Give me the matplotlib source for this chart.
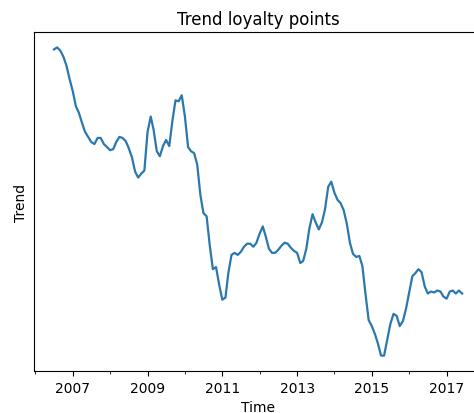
import numpy as np
import pandas as pd
import matplotlib
matplotlib.use('Agg')
import matplotlib.pyplot as plt

# monthly trend of loyalty points (centred 12-month trend, so half a year lost at each end)
start = '2006-07-01'
trend = [328, 330, 327, 321, 312, 299, 287, 272, 266, 256, 247, 242,
         237, 235, 241, 241, 235, 232, 229, 230, 237, 242, 241, 238,
         231, 222, 208, 202, 206, 209, 247, 262, 249, 228, 223, 233,
         239, 233, 258, 278, 277, 283, 262, 232, 228, 226, 215, 185,
         167, 164, 135, 112, 114, 97, 82, 84, 108, 126, 128, 126,
         129, 134, 137, 137, 134, 138, 147, 154, 144, 132, 128, 128,
         131, 135, 138, 137, 133, 130, 128, 118, 120, 132, 152, 166,
         158, 151, 158, 171, 193, 198, 187, 180, 177, 170, 157, 138,
         127, 124, 125, 115, 87, 62, 56, 48, 39, 27, 27, 43,
         58, 68, 66, 56, 61, 73, 89, 105, 108, 112, 109, 95,
         88, 90, 89, 91, 90, 85, 83, 90, 91, 88, 91, 88]
tick_years = [2007, 2009, 2011, 2013, 2015, 2017]
minor_years = [2006, 2008, 2010, 2012, 2014, 2016]

dates = pd.date_range(start, periods=len(trend), freq='MS')

fig = plt.figure(figsize=(4.74, 4.14), dpi=100)
# axes runs off the right edge of the figure
ax = fig.add_axes([33.5 / 474, 42 / 414, 449 / 474, 339 / 414])
ax.plot(dates, trend, color='#2a78ad', linewidth=1.6)

ax.set_xticks([pd.Timestamp(f'{y}-01-01') for y in tick_years])
ax.set_xticklabels([str(y) for y in tick_years])
ax.set_xticks([pd.Timestamp(f'{y}-01-01') for y in minor_years], minor=True)
ax.set_yticks([])

ax.set_title('Trend loyalty points', fontsize=12)
ax.set_xlabel('Time')
ax.set_ylabel('Trend')

fig.savefig('out.png', dpi=100)
